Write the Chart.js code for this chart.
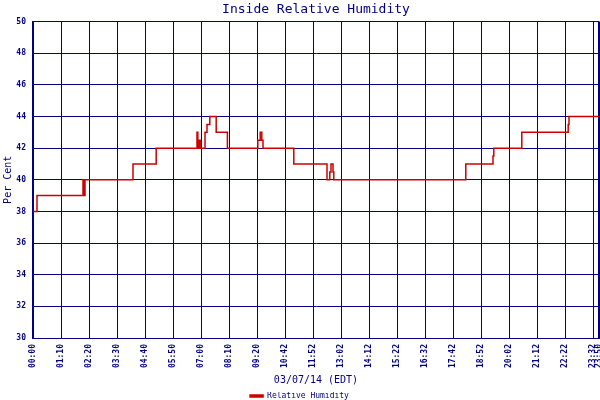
<!DOCTYPE html>
<html>
<head>
<meta charset="utf-8">
<script src="https://cdn.jsdelivr.net/npm/chart.js@4"></script>
<style>
  body { margin: 0; background: #fff; }
  #wrap { width: 600px; height: 400px; }
</style>
</head>
<body>
<div id="wrap"><canvas id="rh" width="600" height="400"></canvas></div>
<script>
// tick labels sit at these elapsed minutes of the record
const tickMinutes = [0, 70, 140, 210, 280, 350, 420, 490, 560, 630, 700, 770, 840, 910, 980, 1050, 1120, 1190, 1260, 1330, 1400, 1415];
const tickLabels = ['00:00', '01:10', '02:20', '03:30', '04:40', '05:50', '07:00', '08:10', '09:20', '10:42', '11:52', '13:02', '14:12', '15:22', '16:32', '17:42', '18:52', '20:02', '21:12', '22:22', '23:32', '23:50'];

// humidity changes (elapsed minute -> new value)
const changeMinutes = [0, 10, 125, 128, 130, 250, 308, 410, 412, 415, 418, 430, 435, 442, 458, 486, 562, 568, 572, 575, 652, 735, 742, 745, 750, 752, 1082, 1150, 1152, 1222, 1338, 1340, 1415];
const humidity = [38, 39, 40, 39, 40, 41, 42, 43, 42, 42.5, 42, 43, 43.5, 44, 43, 42, 42.5, 43, 42.5, 42, 41, 40, 40.5, 41, 40.5, 40, 41, 41.5, 42, 43, 43.5, 44, 44];

const navy = '#000080';
const red = '#cc0000';
const mono = 'DejaVu Sans Mono';

const points = changeMinutes.map((m, i) => ({ x: m, y: humidity[i] }));

new Chart(document.getElementById('rh'), {
  type: 'line',
  data: {
    datasets: [{
      label: 'Relative Humidity',
      data: points,
      stepped: true,
      borderColor: red,
      backgroundColor: red,
      borderWidth: 1.5,
      pointRadius: 0,
      fill: false
    }]
  },
  options: {
    responsive: false,
    animation: false,
    // legend box carries 10px of dead space underneath, push it off the canvas
    layout: { padding: { right: 1, bottom: -10 } },
    plugins: {
      title: {
        display: true,
        text: 'Inside Relative Humidity',
        color: navy,
        fullSize: false,
        font: { family: mono, size: 13, weight: 'normal' },
        padding: { top: 2, bottom: 4 }
      },
      legend: {
        position: 'bottom',
        labels: {
          color: navy,
          font: { family: mono, size: 8 },
          boxWidth: 13,
          boxHeight: 2,
          padding: 0
        }
      },
      tooltip: { enabled: false }
    },
    scales: {
      x: {
        type: 'linear',
        min: 0,
        max: 1415,
        afterBuildTicks: s => { s.ticks = tickMinutes.map(v => ({ value: v })); },
        afterFit: s => { s.height = 54; s.paddingLeft = 0; s.paddingRight = 0; },
        ticks: {
          color: navy,
          font: { family: mono, size: 8, weight: 'bold' },
          minRotation: 90,
          maxRotation: 90,
          autoSkip: false,
          padding: 6,
          callback: (v, i) => tickLabels[i]
        },
        grid: {
          color: navy,
          drawTicks: false,
          lineWidth: ctx => ctx.index === tickMinutes.length - 1 ? 3 : 1
        },
        border: { color: navy, width: 1 },
        title: {
          display: true,
          text: '03/07/14 (EDT)',
          color: navy,
          font: { family: mono, size: 10 },
          padding: { top: 0, bottom: 6 }
        }
      },
      y: {
        min: 30,
        max: 50,
        afterFit: s => { s.width = 33; },
        ticks: {
          stepSize: 2,
          color: navy,
          font: { family: mono, size: 8, weight: 'bold' },
          padding: 7
        },
        grid: { color: navy, drawTicks: false, lineWidth: 1 },
        border: { color: navy, width: 2 },
        title: {
          display: true,
          text: 'Per Cent',
          color: navy,
          font: { family: mono, size: 10 },
          padding: { top: 2, bottom: 0 }
        }
      }
    }
  }
});
</script>
</body>
</html>
